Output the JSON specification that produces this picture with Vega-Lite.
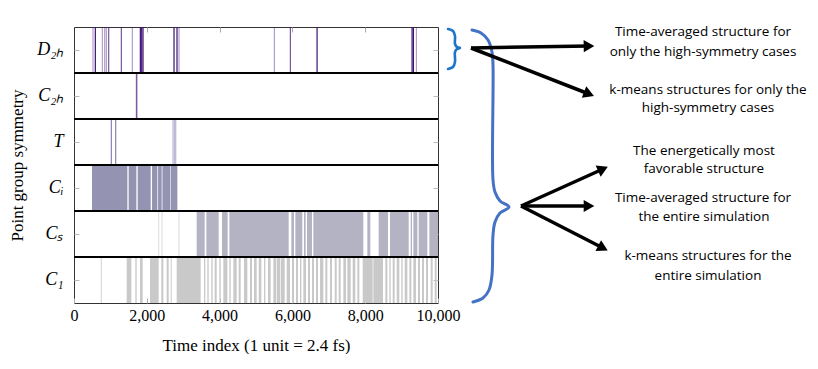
{
  "$schema": "https://vega.github.io/schema/vega-lite/v6.json",
  "background": "white",
  "padding": {"left": 8, "top": 23, "right": 0, "bottom": 0},
  "bounds": "flush",
  "config": {
    "view": {"stroke": "#333", "strokeWidth": 1},
    "concat": {"spacing": 8},
    "font": "Liberation Serif"
  },
  "datasets": {
    "lines": [
      {"sym": "D₂ₕ", "t": 522, "n": 1},
      {"sym": "D₂ₕ", "t": 586, "n": 3},
      {"sym": "D₂ₕ", "t": 779, "n": 1},
      {"sym": "D₂ₕ", "t": 843, "n": 1},
      {"sym": "D₂ₕ", "t": 889, "n": 1},
      {"sym": "D₂ₕ", "t": 953, "n": 2},
      {"sym": "D₂ₕ", "t": 1301, "n": 2},
      {"sym": "D₂ₕ", "t": 1603, "n": 1},
      {"sym": "D₂ₕ", "t": 1823, "n": 3},
      {"sym": "D₂ₕ", "t": 1860, "n": 3},
      {"sym": "D₂ₕ", "t": 1896, "n": 3},
      {"sym": "D₂ₕ", "t": 2748, "n": 3},
      {"sym": "D₂ₕ", "t": 2830, "n": 3},
      {"sym": "D₂ₕ", "t": 2885, "n": 1},
      {"sym": "D₂ₕ", "t": 5505, "n": 1},
      {"sym": "D₂ₕ", "t": 5945, "n": 2},
      {"sym": "D₂ₕ", "t": 6678, "n": 3},
      {"sym": "D₂ₕ", "t": 9288, "n": 3},
      {"sym": "D₂ₕ", "t": 9325, "n": 3},
      {"sym": "D₂ₕ", "t": 9407, "n": 1},
      {"sym": "C₂ₕ", "t": 1715, "n": 2},
      {"sym": "C₂ₕ", "t": 1735, "n": 1},
      {"sym": "T", "t": 1026, "n": 2},
      {"sym": "T", "t": 1145, "n": 2},
      {"sym": "T", "t": 2720, "n": 1},
      {"sym": "T", "t": 2760, "n": 1},
      {"sym": "T", "t": 2794, "n": 1},
      {"sym": "Cₛ", "t": 2326, "n": 1},
      {"sym": "Cₛ", "t": 2418, "n": 1},
      {"sym": "Cₛ", "t": 2885, "n": 1},
      {"sym": "C₁", "t": 751, "n": 2}
    ],
    "bands": [
      {"sym": "Cᵢ", "start": 495, "end": 1466},
      {"sym": "Cᵢ", "start": 1502, "end": 1713},
      {"sym": "Cᵢ", "start": 1750, "end": 2107},
      {"sym": "Cᵢ", "start": 2144, "end": 2290},
      {"sym": "Cᵢ", "start": 2310, "end": 2410},
      {"sym": "Cᵢ", "start": 2430, "end": 2640},
      {"sym": "Cᵢ", "start": 2655, "end": 2840},
      {"sym": "Cₛ", "start": 3370, "end": 3590},
      {"sym": "Cₛ", "start": 3636, "end": 3975},
      {"sym": "Cₛ", "start": 4066, "end": 4222},
      {"sym": "Cₛ", "start": 4268, "end": 5898},
      {"sym": "Cₛ", "start": 5971, "end": 6044},
      {"sym": "Cₛ", "start": 6081, "end": 6273},
      {"sym": "Cₛ", "start": 6319, "end": 6365},
      {"sym": "Cₛ", "start": 6401, "end": 6539},
      {"sym": "Cₛ", "start": 6575, "end": 7949},
      {"sym": "Cₛ", "start": 8059, "end": 8141},
      {"sym": "Cₛ", "start": 8370, "end": 8627},
      {"sym": "Cₛ", "start": 8682, "end": 9195},
      {"sym": "Cₛ", "start": 9250, "end": 9286},
      {"sym": "Cₛ", "start": 9323, "end": 9433},
      {"sym": "Cₛ", "start": 9469, "end": 9707},
      {"sym": "Cₛ", "start": 9762, "end": 10000},
      {"sym": "C₁", "start": 1447, "end": 1575},
      {"sym": "C₁", "start": 1685, "end": 1722},
      {"sym": "C₁", "start": 1813, "end": 1887},
      {"sym": "C₁", "start": 2088, "end": 2326},
      {"sym": "C₁", "start": 2399, "end": 2454},
      {"sym": "C₁", "start": 2546, "end": 2601},
      {"sym": "C₁", "start": 2656, "end": 2683},
      {"sym": "C₁", "start": 2821, "end": 3480},
      {"sym": "C₁", "start": 3572, "end": 3608},
      {"sym": "C₁", "start": 3663, "end": 3700},
      {"sym": "C₁", "start": 3773, "end": 3810},
      {"sym": "C₁", "start": 3865, "end": 3920},
      {"sym": "C₁", "start": 3993, "end": 4030},
      {"sym": "C₁", "start": 4103, "end": 4213},
      {"sym": "C₁", "start": 4268, "end": 4304},
      {"sym": "C₁", "start": 4378, "end": 4469},
      {"sym": "C₁", "start": 4524, "end": 4579},
      {"sym": "C₁", "start": 4671, "end": 4762},
      {"sym": "C₁", "start": 4835, "end": 4890},
      {"sym": "C₁", "start": 4945, "end": 5019},
      {"sym": "C₁", "start": 5074, "end": 5147},
      {"sym": "C₁", "start": 5220, "end": 5257},
      {"sym": "C₁", "start": 5330, "end": 5403},
      {"sym": "C₁", "start": 5477, "end": 5550},
      {"sym": "C₁", "start": 5568, "end": 5660},
      {"sym": "C₁", "start": 5678, "end": 5788},
      {"sym": "C₁", "start": 5843, "end": 5934},
      {"sym": "C₁", "start": 5989, "end": 6044},
      {"sym": "C₁", "start": 6099, "end": 6154},
      {"sym": "C₁", "start": 6209, "end": 6246},
      {"sym": "C₁", "start": 6301, "end": 6374},
      {"sym": "C₁", "start": 6429, "end": 6484},
      {"sym": "C₁", "start": 6539, "end": 6594},
      {"sym": "C₁", "start": 6649, "end": 6704},
      {"sym": "C₁", "start": 6759, "end": 6850},
      {"sym": "C₁", "start": 6905, "end": 6960},
      {"sym": "C₁", "start": 7033, "end": 7088},
      {"sym": "C₁", "start": 7162, "end": 7217},
      {"sym": "C₁", "start": 7272, "end": 7326},
      {"sym": "C₁", "start": 7400, "end": 7473},
      {"sym": "C₁", "start": 7510, "end": 7601},
      {"sym": "C₁", "start": 7656, "end": 7729},
      {"sym": "C₁", "start": 7784, "end": 7839},
      {"sym": "C₁", "start": 7931, "end": 8205},
      {"sym": "C₁", "start": 8223, "end": 8489},
      {"sym": "C₁", "start": 8553, "end": 8609},
      {"sym": "C₁", "start": 8663, "end": 8700},
      {"sym": "C₁", "start": 8755, "end": 8810},
      {"sym": "C₁", "start": 8865, "end": 8938},
      {"sym": "C₁", "start": 8993, "end": 9030},
      {"sym": "C₁", "start": 9085, "end": 9158},
      {"sym": "C₁", "start": 9213, "end": 9268},
      {"sym": "C₁", "start": 9323, "end": 9396},
      {"sym": "C₁", "start": 9451, "end": 9506},
      {"sym": "C₁", "start": 9561, "end": 9616},
      {"sym": "C₁", "start": 9671, "end": 9726},
      {"sym": "C₁", "start": 9799, "end": 9854},
      {"sym": "C₁", "start": 9909, "end": 9964}
    ],
    "seps": [
      {"sym": "C₂ₕ"}, {"sym": "T"}, {"sym": "Cᵢ"}, {"sym": "Cₛ"}, {"sym": "C₁"}
    ],
    "smallBrace": [
      {"i": 0, "x": 2, "y": 2},
      {"i": 1, "x": 7, "y": 4},
      {"i": 2, "x": 9, "y": 9},
      {"i": 3, "x": 9, "y": 17},
      {"i": 4, "x": 11, "y": 20},
      {"i": 5, "x": 14, "y": 21},
      {"i": 6, "x": 11, "y": 22},
      {"i": 7, "x": 9, "y": 25},
      {"i": 8, "x": 9, "y": 35},
      {"i": 9, "x": 7, "y": 40},
      {"i": 10, "x": 2, "y": 42}
    ],
    "bigBrace": [
      {"i": 0, "x": 26, "y": 3},
      {"i": 1, "x": 35, "y": 6},
      {"i": 2, "x": 42, "y": 13},
      {"i": 3, "x": 46, "y": 25},
      {"i": 4, "x": 47, "y": 38},
      {"i": 5, "x": 47, "y": 153},
      {"i": 6, "x": 49, "y": 165},
      {"i": 7, "x": 54, "y": 174},
      {"i": 8, "x": 63, "y": 180},
      {"i": 9, "x": 54, "y": 186},
      {"i": 10, "x": 49, "y": 195},
      {"i": 11, "x": 47, "y": 208},
      {"i": 12, "x": 46, "y": 248},
      {"i": 13, "x": 43, "y": 263},
      {"i": 14, "x": 37, "y": 271},
      {"i": 15, "x": 27, "y": 275}
    ],
    "arrows": [
      {"x": 25, "y": 21, "x2": 143, "y2": 19},
      {"x": 25, "y": 21, "x2": 143, "y2": 67},
      {"x": 75, "y": 179, "x2": 157, "y2": 142},
      {"x": 75, "y": 179, "x2": 143, "y2": 179},
      {"x": 75, "y": 179, "x2": 157, "y2": 221}
    ],
    "notes": [
      {"x": 257, "y": 5, "label": "Time-averaged structure for"},
      {"x": 257, "y": 25, "label": "only the high-symmetry cases"},
      {"x": 262, "y": 63, "label": "k-means structures for only the"},
      {"x": 262, "y": 81, "label": "high-symmetry cases"},
      {"x": 258, "y": 124, "label": "The energetically most"},
      {"x": 258, "y": 142, "label": "favorable structure"},
      {"x": 257, "y": 171, "label": "Time-averaged structure for"},
      {"x": 258, "y": 190, "label": "the entire simulation"},
      {"x": 262, "y": 229, "label": "k-means structures for the"},
      {"x": 262, "y": 249, "label": "entire simulation"}
    ]
  },
  "hconcat": [
    {
      "width": 364,
      "height": 276,
      "layer": [
        {
          "data": {"name": "bands"},
          "mark": {"type": "rect"},
          "encoding": {
            "x": {
              "field": "start", "type": "quantitative",
              "scale": {"domain": [0, 10000], "nice": false},
              "axis": {
                "orient": "bottom", "values": [0, 2000, 4000, 6000, 8000, 10000],
                "labelExpr": "format(datum.value, ',d')", "tickSize": -5, "tickColor": "#aaa", "domain": false,
                "grid": false,
                "labelFont": "Liberation Serif", "labelFontSize": 16, "labelColor": "black",
                "labelPadding": 9, "labelFlush": false, "labelOverlap": false,
                "title": "Time index (1 unit = 2.4 fs)", "titleFont": "Liberation Serif",
                "titleFontSize": 17, "titleFontWeight": "normal", "titleColor": "black",
                "titlePadding": 14
              }
            },
            "x2": {"field": "end"},
            "y": {
              "field": "sym", "type": "nominal",
              "scale": {"domain": ["D₂ₕ", "C₂ₕ", "T", "Cᵢ", "Cₛ", "C₁"], "paddingInner": 0, "paddingOuter": 0},
              "axis": {
                "orient": "left", "tickSize": -5, "tickColor": "#bbb", "domain": false,
                "grid": false,
                "labelFont": "Liberation Serif", "labelFontSize": 18, "labelFontStyle": "italic",
                "labelColor": "black", "labelPadding": 16, "labelAngle": 0,
                "title": "Point group symmetry", "titleFont": "Liberation Serif",
                "titleFontSize": 17, "titleFontWeight": "normal", "titleColor": "black",
                "titlePadding": 10
              }
            },
            "color": {
              "field": "sym", "type": "nominal",
              "scale": {"domain": ["D₂ₕ", "C₂ₕ", "T", "Cᵢ", "Cₛ", "C₁"], "range": ["#3d0f72", "#4b2a86", "#574c9c", "#9494b2", "#b4b3c4", "#c9c9c9"]},
              "legend": null
            }
          }
        },
        {
          "data": {"name": "lines"},
          "mark": {"type": "tick", "thickness": 1.2, "size": 46},
          "encoding": {
            "x": {
              "field": "t", "type": "quantitative",
              "axis": {"orient": "top", "values": [2000, 4000, 6000, 8000], "labels": false, "tickSize": -5, "tickColor": "#aaa", "domain": false, "grid": false, "title": null, "maxExtent": 0, "minExtent": 0}
            },
            "y": {
              "field": "sym", "type": "nominal",
              "axis": {"orient": "right", "labels": false, "tickSize": -5, "tickColor": "#bbb", "domain": false, "grid": false, "title": null, "maxExtent": 0, "minExtent": 0}
            },
            "color": {"field": "sym", "type": "nominal", "legend": null},
            "opacity": {"field": "n", "type": "quantitative", "scale": {"domain": [1, 3], "range": [0.4, 1]}, "legend": null}
          }
        },
        {
          "data": {"name": "seps"},
          "mark": {"type": "rule", "color": "black", "strokeWidth": 2.2},
          "encoding": {
            "y": {"field": "sym", "type": "nominal", "bandPosition": 0, "axis": null}
          }
        }
      ],
      "resolve": {"axis": {"x": "independent", "y": "independent"}}
    },
    {
      "width": 365,
      "height": 276,
      "view": {"stroke": null},
      "layer": [
        {
          "data": {"name": "smallBrace"},
          "mark": {"type": "line", "interpolate": "catmull-rom", "strokeWidth": 2.6, "strokeCap": "round", "color": "#1b76c9"},
          "encoding": {
            "x": {"field": "x", "type": "quantitative", "scale": {"domain": [0, 365], "nice": false, "zero": false}, "axis": null},
            "y": {"field": "y", "type": "quantitative", "scale": {"domain": [0, 276], "nice": false, "zero": false, "reverse": true}, "axis": null},
            "order": {"field": "i", "type": "quantitative"}
          }
        },
        {
          "data": {"name": "bigBrace"},
          "mark": {"type": "line", "interpolate": "catmull-rom", "strokeWidth": 3, "strokeCap": "round", "color": "#4472c4"},
          "encoding": {
            "x": {"field": "x", "type": "quantitative"},
            "y": {"field": "y", "type": "quantitative"},
            "order": {"field": "i", "type": "quantitative"}
          }
        },
        {
          "data": {"name": "arrows"},
          "mark": {"type": "rule", "color": "black", "strokeWidth": 3.5},
          "encoding": {
            "x": {"field": "x", "type": "quantitative"},
            "y": {"field": "y", "type": "quantitative"},
            "x2": {"field": "x2"},
            "y2": {"field": "y2"}
          }
        },
        {
          "data": {"name": "arrows"},
          "transform": [{"calculate": "atan2(datum.y2 - datum.y, datum.x2 - datum.x) * 180 / PI", "as": "ang"}],
          "mark": {"type": "point", "shape": "triangle-right", "filled": true, "color": "black", "opacity": 1, "size": 150},
          "encoding": {
            "x": {"field": "x2", "type": "quantitative"},
            "y": {"field": "y2", "type": "quantitative"},
            "angle": {"field": "ang", "type": "quantitative", "scale": null}
          }
        },
        {
          "data": {"name": "notes"},
          "mark": {"type": "text", "font": "Open Sans", "fontSize": 13.5, "align": "center", "baseline": "middle", "color": "black"},
          "encoding": {
            "x": {"field": "x", "type": "quantitative"},
            "y": {"field": "y", "type": "quantitative"},
            "text": {"field": "label"}
          }
        }
      ]
    }
  ]
}
